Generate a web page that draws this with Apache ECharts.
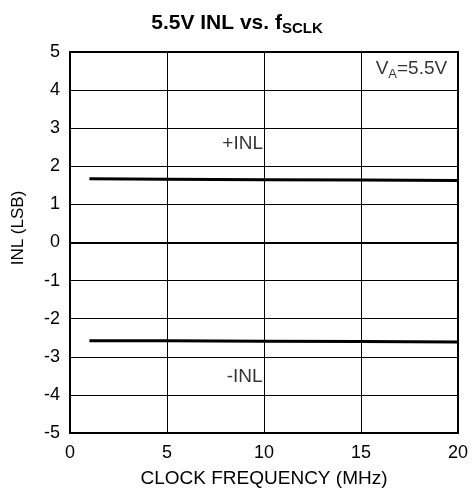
<!DOCTYPE html>
<html>
<head>
<meta charset="utf-8">
<script src="https://cdn.jsdelivr.net/npm/echarts@6/dist/echarts.min.js"></script>
<style>
html,body{margin:0;padding:0;background:#fff;}
#chart{width:474px;height:504px;}
</style>
</head>
<body>
<div id="chart"></div>
<script>
var freqMHz = [1, 5, 10, 15, 20];
var posINL = [1.67, 1.66, 1.65, 1.64, 1.63];
var negINL = [-2.58, -2.58, -2.59, -2.60, -2.61];
var xTicks = [0, 5, 10, 15, 20];
var yTicks = [-5, -4, -3, -2, -1, 0, 1, 2, 3, 4, 5];

var font = 'Liberation Sans, Arial, Helvetica, sans-serif';
function pairs(xs, ys){ return xs.map(function(x,i){ return [x, ys[i]]; }); }

var chart = echarts.init(document.getElementById('chart'), null, {renderer:'canvas'});
chart.setOption({
  animation: false,
  backgroundColor: '#fff',
  title: {
    text: '5.5V INL vs. f{sub|SCLK}',
    left: 'center',
    top: 6,
    textStyle: {
      fontFamily: font, fontWeight: 'bold', fontSize: 21, color: '#000',
      rich: { sub: { fontFamily: font, fontWeight: 'bold', fontSize: 15, color: '#000', verticalAlign: 'bottom', padding: [10,0,0,0] } }
    }
  },
  grid: { left: 70, right: 16, top: 52, bottom: 71, show: true, borderColor: '#000', borderWidth: 2, backgroundColor: 'transparent' },
  xAxis: {
    type: 'value', min: xTicks[0], max: xTicks[xTicks.length-1], interval: 5,
    name: 'CLOCK FREQUENCY (MHz)', nameLocation: 'middle', nameGap: 36,
    nameTextStyle: { fontFamily: font, fontSize: 19, color: '#000' },
    axisLine: { show: true, lineStyle: { color: '#000', width: 2 } },
    axisTick: { show: false },
    axisLabel: { fontFamily: font, fontSize: 18, color: '#000', margin: 11 },
    splitLine: { show: true, lineStyle: { color: '#000', width: 1 } }
  },
  yAxis: {
    type: 'value', min: yTicks[0], max: yTicks[yTicks.length-1], interval: 1,
    axisLine: { show: true, lineStyle: { color: '#000', width: 2 } },
    axisTick: { show: false },
    axisLabel: { fontFamily: font, fontSize: 18, color: '#000', margin: 10 },
    splitLine: { show: true, lineStyle: { color: '#000', width: 1 } }
  },
  graphic: [
    { type: 'text', x: 18, y: 228, rotation: Math.PI/2, style: { text: 'INL (LSB)', fontFamily: font, fontSize: 17, fill: '#000', align: 'center', verticalAlign: 'middle' } }
  ],
  series: [
    {
      name: '+INL', type: 'line', data: pairs(freqMHz, posINL), symbol: 'none',
      lineStyle: { color: '#000', width: 3 }
    },
    {
      name: '-INL', type: 'line', data: pairs(freqMHz, negINL), symbol: 'none',
      lineStyle: { color: '#000', width: 3 }
    },
    {
      type: 'scatter', symbolSize: 0, silent: true,
      data: [
        { value: [8.9, 2.6], label: { show: true, formatter: '+INL' } },
        { value: [9.0, -3.52], label: { show: true, formatter: '-INL' } },
        { value: [17.6, 4.55], label: { show: true, formatter: 'V{sub|A}=5.5V' } }
      ],
      label: { position: 'inside', fontFamily: font, fontSize: 19, color: '#000',
        rich: { sub: { fontFamily: font, fontSize: 13, color: '#000', padding: [10,0,0,0] } } }
    }
  ]
});
</script>
</body>
</html>
